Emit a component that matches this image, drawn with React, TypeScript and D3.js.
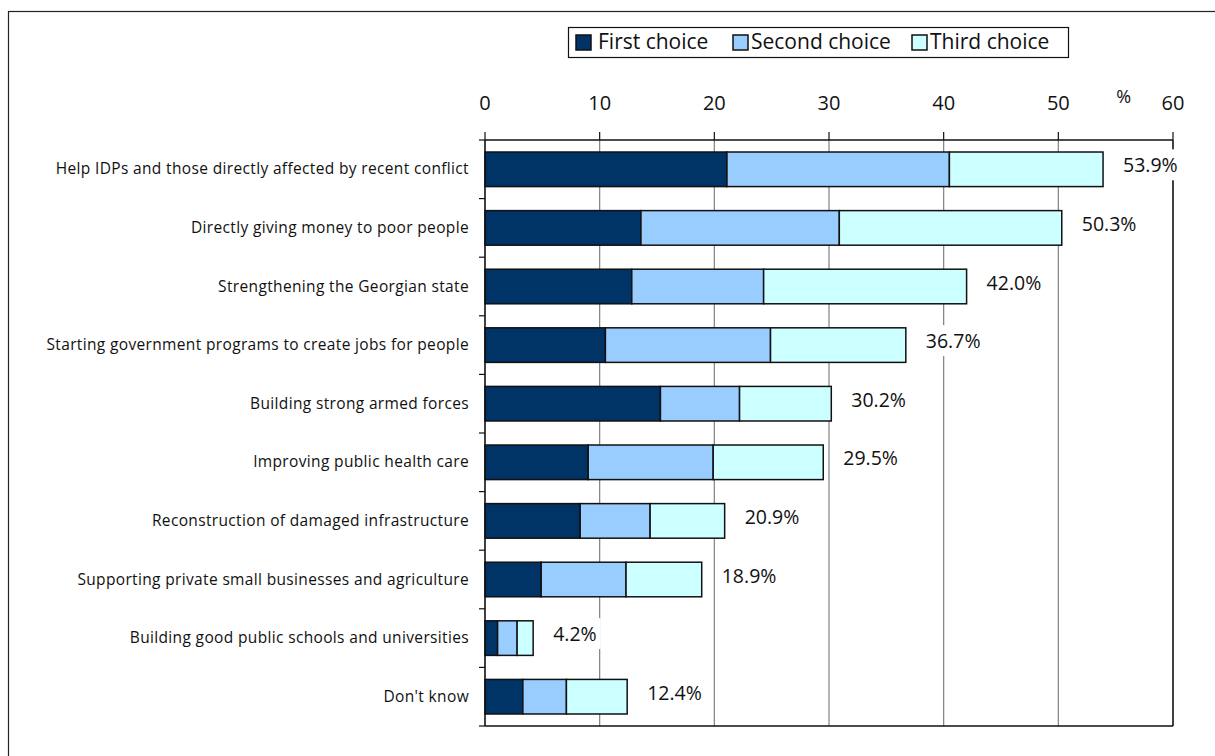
import React, { useEffect, useRef } from "react";
import * as d3 from "d3";

const categories = [
  "Help IDPs and those directly affected by recent conflict",
  "Directly giving money to poor people",
  "Strengthening the Georgian state",
  "Starting government programs to create jobs for people",
  "Building strong armed forces",
  "Improving public health care",
  "Reconstruction of damaged infrastructure",
  "Supporting private small businesses and agriculture",
  "Building good public schools and universities",
  "Don't know",
];
const firstChoice = [21.1, 13.6, 12.8, 10.5, 15.3, 9.0, 8.3, 4.9, 1.1, 3.3];
const secondChoice = [19.4, 17.3, 11.5, 14.4, 6.9, 10.9, 6.1, 7.4, 1.7, 3.8];
const thirdChoice = [13.4, 19.4, 17.7, 11.8, 8.0, 9.6, 6.5, 6.6, 1.4, 5.3];
const totalLabels = ["53.9%", "50.3%", "42.0%", "36.7%", "30.2%", "29.5%", "20.9%", "18.9%", "4.2%", "12.4%"];
const seriesNames = ["First choice", "Second choice", "Third choice"];
const seriesColors = ["#003366", "#99CCFF", "#CCFFFF"];
const xTicks = [0, 10, 20, 30, 40, 50, 60];

const FONT = "'Open Sans', 'DejaVu Sans', sans-serif";

export default function App() {
  const ref = useRef<SVGSVGElement | null>(null);

  useEffect(() => {
    const svg = d3.select(ref.current);
    svg.selectAll("*").remove();

    const left = 485, right = 1173, top = 140, bottom = 726;
    const x = d3.scaleLinear().domain([0, 60]).range([left, right]);
    const y = d3.scaleBand<string>().domain(categories).range([top, bottom]).paddingInner(0.41).paddingOuter(0.205);

    // outer frame
    svg.append("rect").attr("x", 8.5).attr("y", 11.5).attr("width", 1230).attr("height", 760)
      .attr("fill", "white").attr("stroke", "#222").attr("stroke-width", 1.2);

    // gridlines
    svg.append("g").selectAll("line").data(xTicks.slice(1, -1)).join("line")
      .attr("x1", d => x(d)).attr("x2", d => x(d)).attr("y1", top).attr("y2", bottom)
      .attr("stroke", "#808080").attr("stroke-width", 1.2);

    // bars
    const data = categories.map((c, i) => ({ c, f: firstChoice[i], s: secondChoice[i], t: thirdChoice[i] }));
    const stack = d3.stack<any>().keys(["f", "s", "t"])(data);
    stack.forEach((layer, k) => {
      svg.append("g").selectAll("rect").data(layer).join("rect")
        .attr("x", d => x(d[0]))
        .attr("width", d => x(d[1]) - x(d[0]))
        .attr("y", d => y(d.data.c)!)
        .attr("height", y.bandwidth())
        .attr("fill", seriesColors[k])
        .attr("stroke", "#111").attr("stroke-width", 1.5);
    });

    // plot border: right, bottom, left, top axis
    svg.append("line").attr("x1", right).attr("x2", right).attr("y1", top).attr("y2", bottom).attr("stroke", "#111").attr("stroke-width", 1.6);
    svg.append("line").attr("x1", left).attr("x2", right).attr("y1", bottom).attr("y2", bottom).attr("stroke", "#111").attr("stroke-width", 1.6);
    svg.append("line").attr("x1", left).attr("x2", left).attr("y1", top).attr("y2", bottom).attr("stroke", "#111").attr("stroke-width", 1.6);
    svg.append("line").attr("x1", left).attr("x2", right).attr("y1", top).attr("y2", top).attr("stroke", "#111").attr("stroke-width", 1.6);

    // top ticks
    svg.append("g").selectAll("line").data(xTicks).join("line")
      .attr("x1", d => x(d)).attr("x2", d => x(d)).attr("y1", top - 8).attr("y2", top)
      .attr("stroke", "#111").attr("stroke-width", 1.2);
    svg.append("g").selectAll("text").data(xTicks).join("text")
      .attr("x", d => x(d)).attr("y", 110).attr("text-anchor", "middle")
      .attr("font-family", FONT).attr("font-size", 20).attr("fill", "#111")
      .text(d => String(d));
    svg.append("text").attr("x", x(55.7)).attr("y", 103).attr("text-anchor", "middle")
      .attr("font-family", FONT).attr("font-size", 18).attr("fill", "#111").text("%");

    // left ticks at band boundaries
    const bounds = d3.range(categories.length + 1).map(i => top + i * y.step());
    svg.append("g").selectAll("line").data(bounds).join("line")
      .attr("x1", left - 6).attr("x2", left).attr("y1", d => d).attr("y2", d => d)
      .attr("stroke", "#111").attr("stroke-width", 1.2);

    // category labels
    svg.append("g").selectAll("text").data(categories).join("text")
      .attr("x", 469).attr("y", d => y(d)! + y.bandwidth() / 2 + 5)
      .attr("text-anchor", "end").attr("font-family", FONT).attr("font-size", 15.5)
      .attr("letter-spacing", 0.35).attr("fill", "#111")
      .text(d => d);

    // value labels with white background
    const totals = categories.map((_, i) => firstChoice[i] + secondChoice[i] + thirdChoice[i]);
    const lg = svg.append("g");
    categories.forEach((c, i) => {
      const tx = x(totals[i]) + 20;
      const ty = y(c)! + y.bandwidth() / 2 - 4;
      const bgRect = lg.append("rect").attr("fill", "white");
      const t = lg.append("text").attr("x", tx).attr("y", ty + 7)
        .attr("font-family", FONT).attr("font-size", 19.5).attr("fill", "#111").text(totalLabels[i]);
      const bb = (t.node() as SVGTextElement).getBBox();
      bgRect.attr("x", bb.x - 4).attr("y", bb.y - 2).attr("width", bb.width + 8).attr("height", bb.height + 4);
    });

    // legend
    const legX = 568, legY = 27;
    svg.append("rect").attr("x", legX + 0.5).attr("y", legY + 0.5).attr("width", 500).attr("height", 30)
      .attr("fill", "white").attr("stroke", "#111").attr("stroke-width", 1.2);
    const swatchX = [576, 733, 912];
    const textX = [598, 751, 930];
    seriesNames.forEach((name, k) => {
      svg.append("rect").attr("x", swatchX[k]).attr("y", legY + 8).attr("width", 15).attr("height", 15)
        .attr("fill", seriesColors[k]).attr("stroke", "#111").attr("stroke-width", 1.5);
      svg.append("text").attr("x", textX[k]).attr("y", legY + 22)
        .attr("font-family", FONT).attr("font-size", 21).attr("fill", "#111").text(name);
    });
  }, []);

  return (
    <svg ref={ref} width={1215} height={756}
      style={{ position: "absolute", left: 0, top: 0, background: "white" }} />
  );
}
